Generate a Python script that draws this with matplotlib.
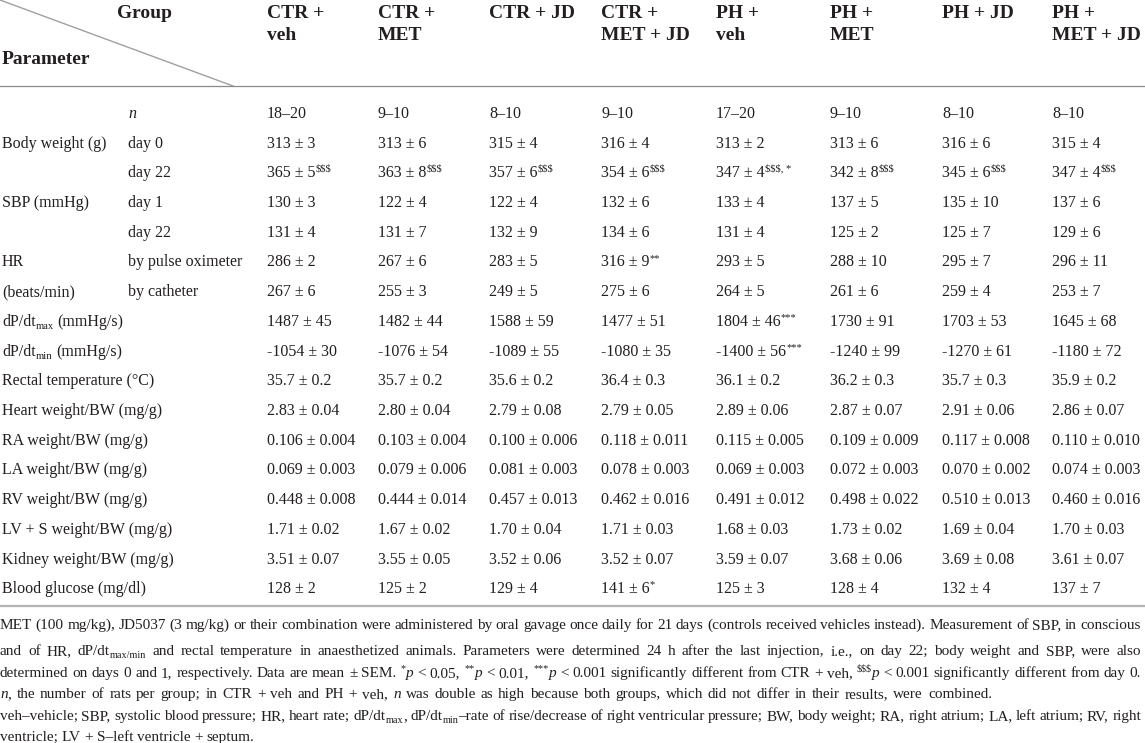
import re
import matplotlib
matplotlib.use("Agg")
from matplotlib import pyplot as plt

plt.rcParams['font.family'] = ['Liberation Serif', 'DejaVu Serif']

# 表格数据
groups = [["CTR +", "veh"], ["CTR +", "MET"], ["CTR + JD"], ["CTR +", "MET + JD"],
          ["PH +", "veh"], ["PH +", "MET"], ["PH + JD"], ["PH +", "MET + JD"]]

params = ["", "Body weight (g)", "", "SBP (mmHg)", "", "HR", "(beats/min)",
          "dP/dt<sub>max</sub> (mmHg/s)", "dP/dt<sub>min</sub> (mmHg/s)",
          "Rectal temperature (°C)", "Heart weight/BW (mg/g)", "RA weight/BW (mg/g)",
          "LA weight/BW (mg/g)", "RV weight/BW (mg/g)", "LV + S weight/BW (mg/g)",
          "Kidney weight/BW (mg/g)", "Blood glucose (mg/dl)"]

subparams = ["<i>n</i>", "day 0", "day 22", "day 1", "day 22", "by pulse oximeter",
             "by catheter", "", "", "", "", "", "", "", "", "", ""]

ctr_veh = ["18–20", "313 ± 3", "365 ± 5", "130 ± 3", "131 ± 4", "286 ± 2", "267 ± 6",
           "1487 ± 45", "-1054 ± 30", "35.7 ± 0.2", "2.83 ± 0.04", "0.106 ± 0.004",
           "0.069 ± 0.003", "0.448 ± 0.008", "1.71 ± 0.02", "3.51 ± 0.07", "128 ± 2"]
ctr_met = ["9–10", "313 ± 6", "363 ± 8", "122 ± 4", "131 ± 7", "267 ± 6", "255 ± 3",
           "1482 ± 44", "-1076 ± 54", "35.7 ± 0.2", "2.80 ± 0.04", "0.103 ± 0.004",
           "0.079 ± 0.006", "0.444 ± 0.014", "1.67 ± 0.02", "3.55 ± 0.05", "125 ± 2"]
ctr_jd = ["8–10", "315 ± 4", "357 ± 6", "122 ± 4", "132 ± 9", "283 ± 5", "249 ± 5",
          "1588 ± 59", "-1089 ± 55", "35.6 ± 0.2", "2.79 ± 0.08", "0.100 ± 0.006",
          "0.081 ± 0.003", "0.457 ± 0.013", "1.70 ± 0.04", "3.52 ± 0.06", "129 ± 4"]
ctr_met_jd = ["9–10", "316 ± 4", "354 ± 6", "132 ± 6", "134 ± 6", "316 ± 9", "275 ± 6",
              "1477 ± 51", "-1080 ± 35", "36.4 ± 0.3", "2.79 ± 0.05", "0.118 ± 0.011",
              "0.078 ± 0.003", "0.462 ± 0.016", "1.71 ± 0.03", "3.52 ± 0.07", "141 ± 6"]
ph_veh = ["17–20", "313 ± 2", "347 ± 4", "133 ± 4", "131 ± 4", "293 ± 5", "264 ± 5",
          "1804 ± 46", "-1400 ± 56", "36.1 ± 0.2", "2.89 ± 0.06", "0.115 ± 0.005",
          "0.069 ± 0.003", "0.491 ± 0.012", "1.68 ± 0.03", "3.59 ± 0.07", "125 ± 3"]
ph_met = ["9–10", "313 ± 6", "342 ± 8", "137 ± 5", "125 ± 2", "288 ± 10", "261 ± 6",
          "1730 ± 91", "-1240 ± 99", "36.2 ± 0.3", "2.87 ± 0.07", "0.109 ± 0.009",
          "0.072 ± 0.003", "0.498 ± 0.022", "1.73 ± 0.02", "3.68 ± 0.06", "128 ± 4"]
ph_jd = ["8–10", "316 ± 6", "345 ± 6", "135 ± 10", "125 ± 7", "295 ± 7", "259 ± 4",
         "1703 ± 53", "-1270 ± 61", "35.7 ± 0.3", "2.91 ± 0.06", "0.117 ± 0.008",
         "0.070 ± 0.002", "0.510 ± 0.013", "1.69 ± 0.04", "3.69 ± 0.08", "132 ± 4"]
ph_met_jd = ["8–10", "315 ± 4", "347 ± 4", "137 ± 6", "129 ± 6", "296 ± 11", "253 ± 7",
             "1645 ± 68", "-1180 ± 72", "35.9 ± 0.2", "2.86 ± 0.07", "0.110 ± 0.010",
             "0.074 ± 0.003", "0.460 ± 0.016", "1.70 ± 0.03", "3.61 ± 0.07", "137 ± 7"]

# 显著性标记: (列, 行, 上标)
marks = [(0, 2, "$$$"), (1, 2, "$$$"), (2, 2, "$$$"), (3, 2, "$$$"),
         (4, 2, "$$$, *"), (5, 2, "$$$"), (6, 2, "$$$"), (7, 2, "$$$"),
         (3, 5, "**"), (4, 7, "***"), (4, 8, "***"), (3, 16, "*")]

columns = [ctr_veh, ctr_met, ctr_jd, ctr_met_jd, ph_veh, ph_met, ph_jd, ph_met_jd]

notes = [
    "MET (100 mg/kg), JD5037 (3 mg/kg) or their combination were administered by oral gavage "
    "once daily for 21 days (controls received vehicles instead). Measurement of SBP, in conscious",
    "and of HR, dP/dt<sub>max/min</sub> and rectal temperature in anaesthetized animals. "
    "Parameters were determined 24 h after the last injection, i.e., on day 22; body weight and SBP, were also",
    "determined on days 0 and 1, respectively. Data are mean ± SEM. <sup>*</sup><i>p</i> < 0.05, "
    "<sup>**</sup><i>p</i> < 0.01, <sup>***</sup><i>p</i> < 0.001 significantly different from CTR + veh, "
    "<sup>$$$</sup><i>p</i> < 0.001 significantly different from day 0.",
    "<i>n</i>, the number of rats per group; in CTR + veh and PH + veh, <i>n</i> was double as high because "
    "both groups, which did not differ in their results, were combined.",
    "veh–vehicle; SBP, systolic blood pressure; HR, heart rate; dP/dt<sub>max</sub>, "
    "dP/dt<sub>min</sub>–rate of rise/decrease of right ventricular pressure; BW, body weight; "
    "RA, right atrium; LA, left atrium; RV, right",
    "ventricle; LV + S–left ventricle + septum.",
]

W, H = 1145, 743
ink = '#231f20'
col_x = [267, 378, 489, 601, 716, 830, 942, 1052]
row_y0, row_dy = 113, 29.7

fig = plt.figure(figsize=(W / 100, H / 100), dpi=100)
ax = fig.add_axes([0, 0, 1, 1])
ax.set_xlim(0, W)
ax.set_ylim(H, 0)
ax.axis('off')
renderer = fig.canvas.get_renderer()


def rich(x, y, s, size, weight='normal'):
    """画带上下标/斜体的文字，返回 (artists, 结束x)"""
    px = size * 100 / 72
    arts = []
    for part in re.split(r'(<sup>.*?</sup>|<sub>.*?</sub>|<i>.*?</i>)', s):
        if not part:
            continue
        fs, dy, style = size, 0, 'normal'
        if part.startswith('<sup>'):
            part, fs, dy = part[5:-6], size * 0.66, -0.36 * px
        elif part.startswith('<sub>'):
            part, fs, dy = part[5:-6], size * 0.66, 0.2 * px
        elif part.startswith('<i>'):
            part, style = part[3:-4], 'italic'
        lead = len(part) - len(part.lstrip(' '))
        trail = len(part) - len(part.rstrip(' '))
        x += lead * 0.25 * fs * 100 / 72
        core = part.strip(' ')
        if core:
            t = ax.text(x, y + dy, core, fontsize=fs, style=style, fontweight=weight,
                        color=ink, va='baseline')
            arts.append(t)
            x += t.get_window_extent(renderer).width
        x += trail * 0.25 * fs * 100 / 72
    return arts, x


# 表头
ax.plot([0, 233], [0, 86], color='#a0a0a0', lw=1.0)
ax.plot([0, W], [86, 86], color='#8a8a8a', lw=0.9)
rich(117, 18, "Group", 14, 'bold')
rich(2, 64, "Parameter", 14, 'bold')
for x, g in zip(col_x, groups):
    for k, line in enumerate(g):
        rich(x, 18 + 22 * k, line, 14, 'bold')

# 数据行
for i in range(len(params)):
    yb = row_y0 + i * row_dy + 5
    rich(2, yb, params[i], 11.5)
    rich(128, yb, subparams[i], 11.5)
    for j, col in enumerate(columns):
        s = col[i]
        for mj, mi, m in marks:
            if mj == j and mi == i:
                s = s + "<sup>" + m + "</sup>"
        rich(col_x[j], yb, s, 11.5)

ax.plot([0, W], [606, 606], color='#b4b4b4', lw=1.6)

# 注释（两端对齐）
note_y = [629, 655, 677, 698, 720, 741]
note_right = [1141, 1141, 1141, 992, 1141, None]
for k, line in enumerate(notes):
    words = [w for w in line.split(" ") if w]
    widths = []
    for w in words:
        arts, xe = rich(0, note_y[k], w, 11)
        widths.append(xe)
        for a in arts:
            a.remove()
    if note_right[k] is not None:
        gap = (note_right[k] - sum(widths)) / (len(words) - 1)
    else:
        gap = 3.8
    x = 0
    for w, wd in zip(words, widths):
        rich(x, note_y[k], w, 11)
        x += wd + gap

fig.savefig("out.png", dpi=100)
